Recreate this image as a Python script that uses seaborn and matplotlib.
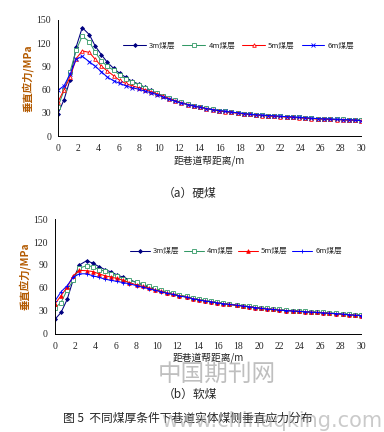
"""
Vertical stress distribution beside roadway for different coal seam thickness
"""
import numpy as np
import pandas as pd
import matplotlib
matplotlib.use("Agg")
import matplotlib.pyplot as plt
import seaborn as sns

# distance from roadway side (m)
distance = [0.0, 0.6, 1.2, 1.8, 2.4, 3.1, 3.7, 4.3, 4.9, 5.5,
            6.1, 6.7, 7.3, 8.0, 8.6, 9.2, 9.8, 10.4, 11.0, 11.6,
            12.2, 12.9, 13.5, 14.1, 14.7, 15.3, 15.9, 16.5, 17.1, 17.8,
            18.4, 19.0, 19.6, 20.2, 20.8, 21.4, 22.0, 22.7, 23.3, 23.9,
            24.5, 25.1, 25.7, 26.3, 26.9, 27.6, 28.2, 28.8, 29.4, 30.0]

labels = ["3m煤层", "4m煤层", "5m煤层", "6m煤层"]

# (a) hard coal
hard_3m = [29, 47, 73, 115, 140, 131, 116, 105, 95, 87.5,
           81, 76, 71, 67, 63, 59, 55, 52, 49, 46,
           43.5, 41, 39, 37.5, 36, 34.5, 33, 32, 31, 30,
           29, 28.5, 27.5, 27, 26.5, 26, 25.5, 25, 24.5, 24,
           23.5, 23, 22.5, 22.5, 22, 21.5, 21.5, 21, 21, 20.5]
hard_4m = [38, 59, 83, 111, 129, 122, 108, 97, 90, 85,
           79, 74, 70, 66.5, 62.5, 58.5, 55, 52, 49, 46,
           43.5, 41, 39, 37.5, 36, 34.5, 33, 32, 31, 30,
           29, 28.5, 27.5, 27, 26.5, 26, 25.5, 25, 24.5, 24,
           23.5, 23, 22.5, 22.5, 22, 21.5, 21.5, 21, 21, 21]
hard_5m = [44, 60, 76, 100, 110, 108, 99, 90, 84, 78,
           72, 68, 65, 62.5, 60, 57.5, 54.5, 51.5, 48.5, 45.5,
           43, 40.5, 38.5, 37, 35.5, 34, 32.5, 31.5, 30.5, 29.5,
           28.5, 28, 27, 26.5, 26, 25.5, 25, 24.5, 24, 23.5,
           23, 22.5, 22, 22, 21.5, 21, 21, 20.5, 20.5, 20]
hard_6m = [59, 65, 80, 99, 103, 96, 90, 83, 76, 71.5,
           68, 65, 62.5, 60.5, 58, 56, 53.5, 50.5, 47.5, 45,
           42.5, 40.5, 38.5, 37, 35.5, 34, 33, 32, 31, 30,
           29, 28, 27.5, 27, 26.5, 26, 25.5, 25, 24.5, 24,
           23.5, 23, 22.5, 22, 22, 21.5, 21, 21, 20.5, 20]

# (b) soft coal
soft_3m = [19, 28, 45, 71, 90, 95.5, 92.5, 88, 84, 81,
           77, 74, 71, 67, 64, 61, 58.5, 56, 54, 52,
           50, 48.5, 46.5, 45, 43.5, 42, 41, 40, 38.5, 37.5,
           36.5, 35.5, 34.5, 33.5, 33, 32, 31.5, 30.5, 30, 29.5,
           29, 28.5, 28, 27.5, 27, 26.5, 26, 25.5, 25, 24.5]
soft_4m = [34, 41, 57.5, 70, 86, 89, 88, 84, 82, 78.5,
           76, 72, 70, 67.5, 65.5, 62, 59.5, 57, 55, 53,
           51, 49, 47, 45.5, 44, 42.5, 41.5, 40.5, 39, 38,
           37, 36, 35, 34, 33.5, 32.5, 32, 31, 30.5, 30,
           29.5, 29, 28.5, 28, 27.5, 27, 26.5, 26, 25, 24.5]
soft_5m = [39, 50, 61, 76, 83, 82.5, 81.5, 78.5, 76, 74,
           72.5, 70, 67, 64, 62, 60, 57.5, 55.5, 53.5, 51.5,
           50, 48, 46, 44.5, 43, 42, 40.5, 39.5, 38.5, 37.5,
           36.5, 35.5, 34.5, 33.5, 32.5, 32, 31, 30.5, 30, 29.5,
           29, 28.5, 28, 27.5, 27, 26, 25.5, 25, 24.5, 24]
soft_6m = [43, 55, 63, 74, 78.5, 78.5, 76, 74, 71.5, 70,
           68.5, 67, 65.5, 63, 61, 59, 57, 55, 53, 51.5,
           49.5, 48, 46, 44.5, 43, 42, 40.5, 39.5, 38.5, 37.5,
           36.5, 35.5, 34.5, 33.5, 32.5, 32, 31, 30.5, 30, 29.5,
           29, 28.5, 28, 27.5, 27, 26.5, 26, 25, 24.5, 24]

colors = ["#000080", "#339966", "#FF0000", "#0000FF"]

sns.set_style("white")
cjk = ['Noto Sans CJK SC', 'DejaVu Sans']
serif = ['Liberation Serif', 'DejaVu Serif']
plt.rcParams['font.family'] = cjk
plt.rcParams['xtick.direction'] = 'in'
plt.rcParams['ytick.direction'] = 'in'


def draw_panel(ax, series, styles, legend_anchor, handle_len, col_space):
    for lab, vals, col, (mk, mfc, ms) in zip(labels, series, colors, styles):
        df = pd.DataFrame({"d": distance, "s": vals})
        sns.lineplot(data=df, x="d", y="s", ax=ax, color=col, lw=0.75,
                     marker=mk, ms=ms, mfc=col if mfc else "white",
                     mec=col, mew=0.6, label=lab)
    ax.set_xlim(0, 30)
    ax.set_ylim(0, 150)
    ax.set_xticks(range(0, 31, 2))
    ax.set_yticks(range(0, 151, 30))
    ax.tick_params(axis="x", labelsize=7, length=2, width=0.6, pad=6)
    ax.tick_params(axis="y", labelsize=7, length=2, width=0.6, pad=5)
    for t in ax.get_xticklabels() + ax.get_yticklabels():
        t.set_fontfamily(serif)
    sns.despine(ax=ax)
    for sp in ax.spines.values():
        sp.set_linewidth(0.7)
        sp.set_color("black")
    ax.set_xlabel("距巷道帮距离/m", fontsize=7, family=cjk, labelpad=1)
    ax.set_ylabel("垂直应力/MPa", fontsize=7.5, color="#B35A00",
                  family=cjk, labelpad=2, fontweight="bold")
    ax.legend(ncol=4, frameon=False, loc="center left",
              bbox_to_anchor=legend_anchor,
              handlelength=handle_len, columnspacing=col_space,
              handletextpad=0.4, borderaxespad=0, borderpad=0,
              prop={'family': cjk, 'size': 5.5})


fig = plt.figure(figsize=(3.84, 4.32), dpi=100)
ax1 = fig.add_axes([0.151, 0.685, 0.789, 0.269])
ax2 = fig.add_axes([0.143, 0.227, 0.797, 0.266])

draw_panel(ax1, [hard_3m, hard_4m, hard_5m, hard_6m],
           [("D", True, 2), ("s", False, 2.2), ("^", False, 2.6), ("x", True, 2.6)],
           (0.215, 0.776), 3.0, 0.9)
draw_panel(ax2, [soft_3m, soft_4m, soft_5m, soft_6m],
           [("D", True, 2), ("s", False, 2.2), ("^", True, 2.6), ("+", True, 2.6)],
           (0.245, 0.72), 2.6, 0.6)

fig.text(0.495, 1 - 193 / 432, "（a）硬煤", ha="center", va="center",
         fontsize=8.5, family=cjk)
fig.text(0.565, 1 - 374 / 432, "中国期刊网", ha="center", va="center",
         fontsize=17, color="#b0b0b0", family=cjk, alpha=0.8)
fig.text(0.495, 1 - 394 / 432, "（b）软煤", ha="center", va="center",
         fontsize=8.5, family=cjk)
fig.text(0.49, 1 - 418 / 432, "图 5  不同煤厚条件下巷道实体煤侧垂直应力分布",
         ha="center", va="center", fontsize=8.5, family=cjk)
fig.text(0.995, 1 - 421 / 432, "www.chinaqking.com", ha="right", va="center",
         fontsize=15, color="#a0a0a0", family=['DejaVu Sans'], alpha=0.55)

fig.savefig("out.png", dpi=100)
